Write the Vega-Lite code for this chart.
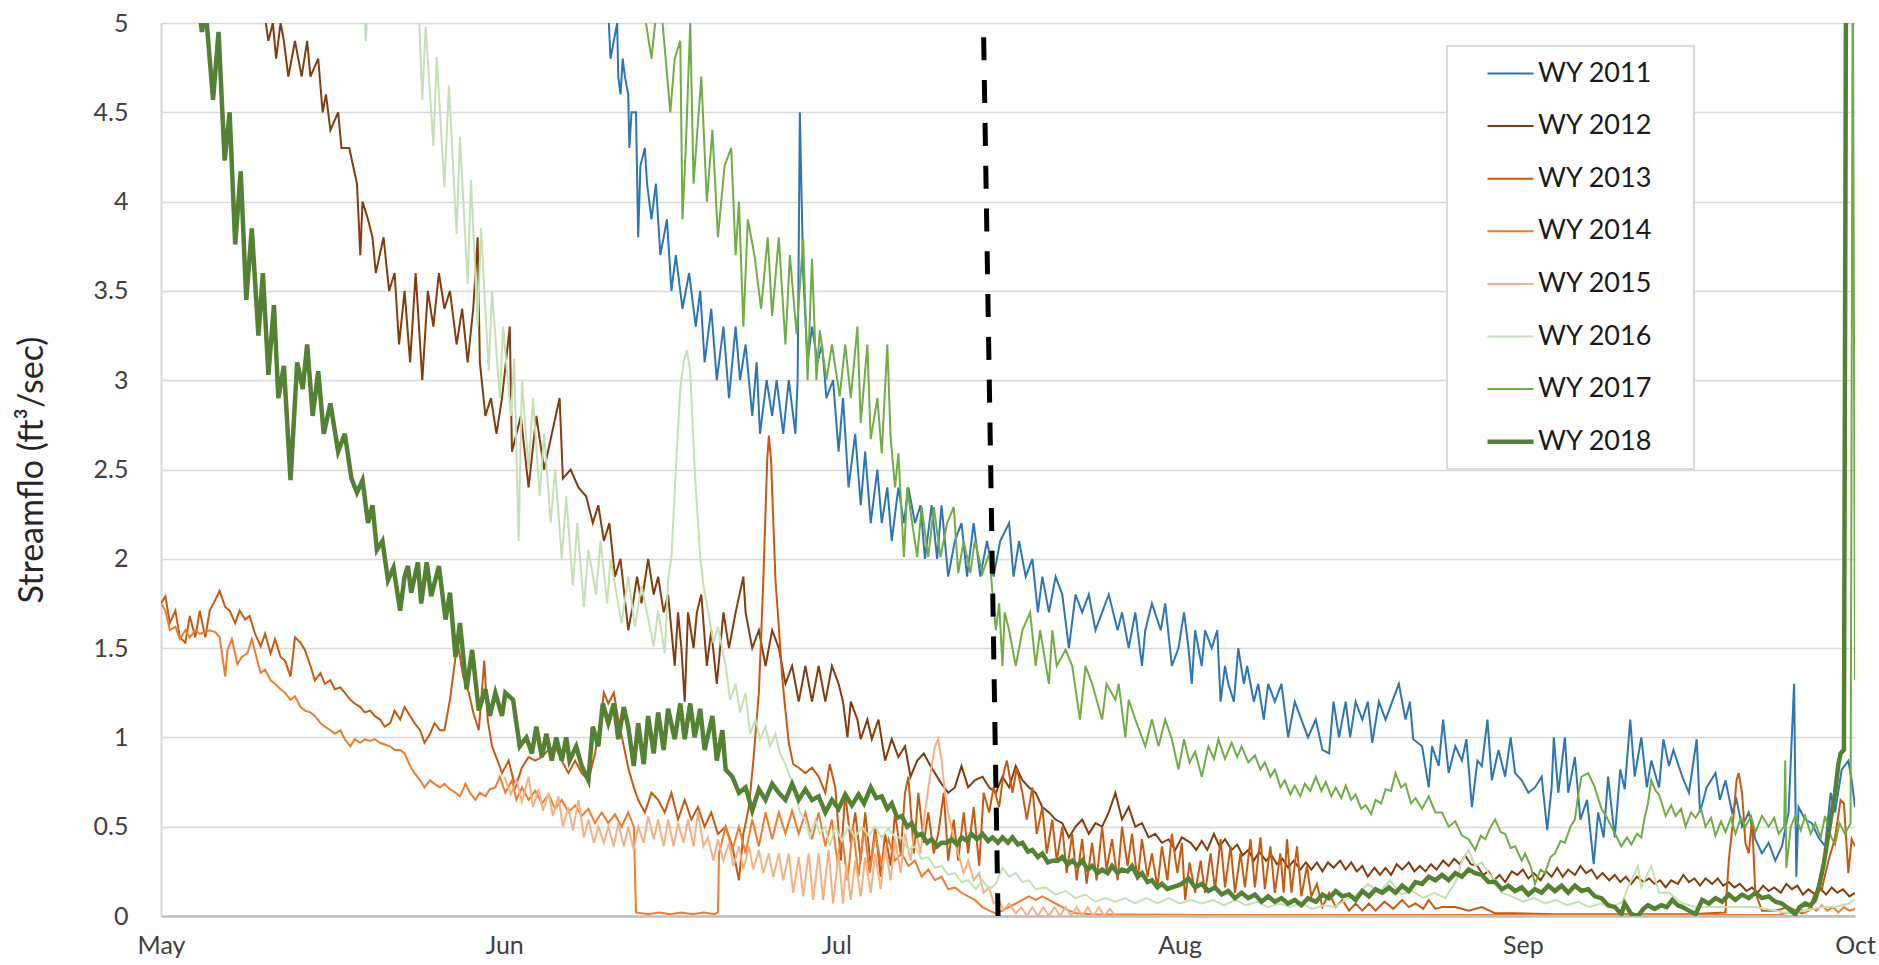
{
"$schema":"https://vega.github.io/schema/vega-lite/v6.json",
"width":1694,"height":893,
"autosize":{"type":"none"},
"padding":{"left":161,"top":23,"right":24,"bottom":49},
"background":"white",
"config":{"view":{"stroke":null},"font":"Lato","axis":{"labelFont":"Lato","titleFont":"Lato"},"legend":{"labelFont":"Lato"}},
"encoding":{
 "x":{"field":"d","type":"quantitative","scale":{"type":"linear","domain":[0,153],"nice":false,"zero":false},
  "axis":{"values":[0,31,61,92,123,153],"labelExpr":"datum.value == 0 ? 'May' : datum.value == 31 ? 'Jun' : datum.value == 61 ? 'Jul' : datum.value == 92 ? 'Aug' : datum.value == 123 ? 'Sep' : 'Oct'","title":null,"grid":false,"ticks":false,"tickSize":0,"domainColor":"#BFBFBF","domainWidth":2.5,"labelFontSize":25,"labelPadding":17,"labelColor":"#404040","labelFlush":false}},
 "y":{"field":"v","type":"quantitative","scale":{"domain":[0,5],"nice":false,"zero":true},
  "axis":{"values":[0,0.5,1,1.5,2,2.5,3,3.5,4,4.5,5],"format":"~g","title":"Streamflo (ft³/sec)","grid":true,"gridColor":"#D9D9D9","gridWidth":1.5,"domainColor":"#D9D9D9","domainWidth":2,"ticks":false,"tickSize":0,"labelPadding":33,"labelFontSize":25,"labelColor":"#404040","titleFontSize":34,"titleFontWeight":"normal","titleColor":"#262626","titleX":-128.5,"titleY":446.5,"titleBaseline":"middle","titleAngle":270}}
},
"datasets":{
"a11":[{"d":38,"v":5.6},{"d":40.3,"v":5.2},{"d":40.6,"v":4.8},{"d":41.2,"v":5.0},{"d":41.3,"v":4.7},{"d":41.5,"v":4.6},{"d":41.7,"v":4.8},{"d":41.9,"v":4.7},{"d":42.2,"v":4.6},{"d":42.3,"v":4.3},{"d":42.5,"v":4.5},{"d":42.9,"v":4.5},{"d":43.1,"v":3.8},{"d":43.3,"v":4.2},{"d":43.7,"v":4.3},{"d":43.9,"v":4.1},{"d":44.3,"v":3.9},{"d":44.7,"v":4.1},{"d":45.1,"v":3.7},{"d":45.7,"v":3.9},{"d":46.1,"v":3.5},{"d":46.5,"v":3.7},{"d":47.1,"v":3.4},{"d":47.7,"v":3.6},{"d":48.3,"v":3.3},{"d":48.7,"v":3.5},{"d":49.1,"v":3.1},{"d":49.7,"v":3.4},{"d":50.2,"v":3.0},{"d":50.8,"v":3.3},{"d":51.3,"v":2.9},{"d":51.9,"v":3.3},{"d":52.3,"v":3.0},{"d":52.8,"v":3.2},{"d":53.4,"v":2.8},{"d":53.8,"v":3.1},{"d":54.1,"v":2.7},{"d":54.7,"v":3.0},{"d":55.2,"v":2.8},{"d":55.6,"v":3.0},{"d":56.2,"v":2.7},{"d":56.7,"v":3.0},{"d":57.3,"v":2.7},{"d":57.5,"v":3.0},{"d":57.7,"v":4.5},{"d":58.0,"v":3.6},{"d":58.4,"v":3.1},{"d":58.8,"v":3.3},{"d":59.3,"v":3.1},{"d":59.7,"v":3.2},{"d":60.1,"v":2.9},{"d":60.7,"v":3.0},{"d":61.2,"v":2.6},{"d":61.6,"v":2.9},{"d":62.1,"v":2.4},{"d":62.7,"v":2.7},{"d":63.2,"v":2.3},{"d":63.6,"v":2.6},{"d":64.1,"v":2.2},{"d":64.7,"v":2.5},{"d":65.1,"v":2.2},{"d":65.6,"v":2.4},{"d":66.0,"v":2.1},{"d":66.6,"v":2.4},{"d":67.1,"v":2.2},{"d":67.5,"v":2.4},{"d":68.1,"v":2.2},{"d":68.6,"v":2.3},{"d":69.0,"v":2.0},{"d":69.6,"v":2.3},{"d":70.1,"v":2.0},{"d":70.5,"v":2.3},{"d":71.1,"v":1.9},{"d":71.7,"v":2.1},{"d":72.3,"v":2.2},{"d":72.8,"v":1.9},{"d":73.4,"v":2.2},{"d":74.0,"v":1.9},{"d":74.6,"v":2.1},{"d":75.2,"v":1.9},{"d":75.8,"v":2.1},{"d":76.6,"v":2.2},{"d":77.0,"v":1.9},{"d":77.5,"v":2.1},{"d":78.1,"v":1.9},{"d":78.7,"v":2.0},{"d":79.2,"v":1.7},{"d":79.6,"v":1.9},{"d":80.2,"v":1.7},{"d":80.8,"v":1.9},{"d":81.4,"v":1.8},{"d":82.0,"v":1.5},{"d":82.6,"v":1.8},{"d":83.2,"v":1.7},{"d":83.8,"v":1.8},{"d":84.4,"v":1.6},{"d":85.0,"v":1.7},{"d":85.6,"v":1.8},{"d":86.4,"v":1.6},{"d":86.8,"v":1.7},{"d":87.4,"v":1.5},{"d":88.0,"v":1.7},{"d":88.6,"v":1.4},{"d":88.9,"v":1.6},{"d":89.5,"v":1.75},{"d":90.3,"v":1.6},{"d":90.7,"v":1.75},{"d":91.3,"v":1.4},{"d":91.9,"v":1.5},{"d":92.4,"v":1.7},{"d":92.8,"v":1.5},{"d":93.1,"v":1.3},{"d":93.4,"v":1.6},{"d":94.0,"v":1.4},{"d":94.3,"v":1.6},{"d":94.9,"v":1.5},{"d":95.4,"v":1.6},{"d":95.7,"v":1.2},{"d":96.1,"v":1.4},{"d":96.4,"v":1.3},{"d":96.9,"v":1.2},{"d":97.3,"v":1.5},{"d":97.8,"v":1.3},{"d":98.1,"v":1.4},{"d":98.7,"v":1.2},{"d":99.1,"v":1.3},{"d":99.6,"v":1.1},{"d":100.0,"v":1.3},{"d":100.6,"v":1.2},{"d":101.2,"v":1.3},{"d":101.8,"v":1.0},{"d":102.4,"v":1.2},{"d":103.0,"v":1.1},{"d":103.6,"v":1.0},{"d":104.3,"v":1.1},{"d":104.9,"v":0.93},{"d":105.5,"v":0.91},{"d":105.9,"v":1.2},{"d":106.4,"v":1.0},{"d":107.0,"v":1.2},{"d":107.4,"v":1.0},{"d":107.9,"v":1.2},{"d":108.5,"v":1.1},{"d":109.0,"v":1.2},{"d":109.4,"v":0.97},{"d":110.0,"v":1.2},{"d":110.6,"v":1.1},{"d":111.2,"v":1.2},{"d":111.8,"v":1.3},{"d":112.4,"v":1.1},{"d":112.8,"v":1.2},{"d":113.1,"v":0.99},{"d":113.9,"v":0.95},{"d":114.5,"v":0.72},{"d":114.8,"v":0.95},{"d":115.4,"v":0.84},{"d":115.8,"v":1.1},{"d":116.3,"v":0.8},{"d":116.9,"v":0.95},{"d":117.5,"v":0.87},{"d":117.9,"v":0.99},{"d":118.4,"v":0.61},{"d":118.9,"v":0.87},{"d":119.3,"v":0.84},{"d":119.8,"v":1.1},{"d":120.2,"v":0.76},{"d":120.8,"v":0.93},{"d":121.4,"v":0.78},{"d":121.9,"v":1.0},{"d":122.3,"v":0.8},{"d":122.9,"v":0.76},{"d":123.5,"v":0.69},{"d":124.1,"v":0.72},{"d":124.7,"v":0.78},{"d":125.2,"v":0.48},{"d":125.6,"v":0.72},{"d":125.8,"v":1.0},{"d":126.2,"v":0.69},{"d":126.8,"v":1.0},{"d":127.1,"v":0.69},{"d":127.7,"v":0.89},{"d":128.2,"v":0.54},{"d":128.8,"v":0.65},{"d":129.4,"v":0.29},{"d":129.8,"v":0.58},{"d":130.3,"v":0.44},{"d":130.7,"v":0.78},{"d":131.3,"v":0.44},{"d":131.8,"v":0.82},{"d":132.2,"v":0.71},{"d":132.7,"v":1.1},{"d":133.1,"v":0.78},{"d":133.7,"v":1.0},{"d":134.2,"v":0.72},{"d":134.6,"v":0.87},{"d":135.3,"v":0.72},{"d":135.7,"v":0.99},{"d":136.2,"v":0.84},{"d":136.6,"v":0.93},{"d":137.4,"v":0.78},{"d":138.0,"v":0.69},{"d":138.7,"v":0.99},{"d":139.0,"v":0.58},{"d":139.6,"v":0.72},{"d":140.4,"v":0.8},{"d":140.8,"v":0.65},{"d":141.3,"v":0.76},{"d":141.9,"v":0.58},{"d":142.3,"v":0.65},{"d":142.8,"v":0.5},{"d":143.4,"v":0.58},{"d":144.0,"v":0.43},{"d":144.6,"v":0.35},{"d":145.2,"v":0.41},{"d":145.8,"v":0.31},{"d":146.4,"v":0.39},{"d":147.0,"v":0.58},{"d":147.5,"v":1.3},{"d":147.7,"v":0.22},{"d":147.9,"v":0.61},{"d":148.5,"v":0.54},{"d":149.1,"v":0.52},{"d":149.7,"v":0.44},{"d":150.3,"v":0.39},{"d":150.8,"v":0.69},{"d":151.2,"v":0.58},{"d":151.8,"v":0.82},{"d":152.4,"v":0.87},{"d":152.7,"v":0.76},{"d":153,"v":0.61}],
"a12":[{"d":7,"v":5.6},{"d":9.0,"v":5.2},{"d":9.7,"v":4.9},{"d":10.1,"v":5.0},{"d":10.4,"v":4.8},{"d":10.8,"v":5.0},{"d":11.1,"v":4.9},{"d":11.5,"v":4.7},{"d":11.8,"v":4.8},{"d":12.1,"v":4.9},{"d":12.7,"v":4.7},{"d":13.2,"v":4.9},{"d":13.5,"v":4.7},{"d":14.2,"v":4.8},{"d":14.6,"v":4.5},{"d":14.9,"v":4.6},{"d":15.3,"v":4.4},{"d":16.0,"v":4.5},{"d":16.3,"v":4.3},{"d":17.0,"v":4.3},{"d":17.7,"v":4.1},{"d":18.0,"v":3.7},{"d":18.2,"v":4.0},{"d":18.7,"v":3.9},{"d":19.1,"v":3.8},{"d":19.4,"v":3.6},{"d":20.1,"v":3.8},{"d":20.6,"v":3.5},{"d":21.1,"v":3.6},{"d":21.5,"v":3.2},{"d":22.0,"v":3.5},{"d":22.5,"v":3.1},{"d":23.0,"v":3.6},{"d":23.6,"v":3.0},{"d":24.1,"v":3.5},{"d":24.6,"v":3.3},{"d":25.1,"v":3.6},{"d":25.6,"v":3.4},{"d":26.1,"v":3.5},{"d":26.7,"v":3.2},{"d":27.2,"v":3.4},{"d":27.7,"v":3.1},{"d":28.2,"v":3.4},{"d":28.6,"v":3.8},{"d":28.8,"v":3.1},{"d":29.3,"v":2.8},{"d":29.8,"v":2.9},{"d":30.3,"v":2.7},{"d":30.8,"v":2.9},{"d":31.5,"v":3.3},{"d":31.7,"v":2.6},{"d":32.5,"v":2.8},{"d":33.2,"v":2.4},{"d":33.9,"v":2.8},{"d":34.6,"v":2.5},{"d":35.3,"v":2.7},{"d":36.0,"v":2.9},{"d":36.3,"v":2.45},{"d":37.0,"v":2.5},{"d":37.7,"v":2.4},{"d":38.4,"v":2.35},{"d":39.0,"v":2.2},{"d":39.5,"v":2.3},{"d":40.0,"v":2.1},{"d":40.5,"v":2.2},{"d":41.0,"v":1.9},{"d":41.5,"v":2.0},{"d":42.2,"v":1.6},{"d":42.5,"v":1.7},{"d":43.0,"v":1.9},{"d":43.4,"v":1.75},{"d":44.0,"v":2.0},{"d":44.5,"v":1.8},{"d":44.9,"v":1.9},{"d":45.4,"v":1.7},{"d":45.8,"v":1.8},{"d":46.4,"v":1.4},{"d":46.7,"v":1.7},{"d":47.0,"v":1.5},{"d":47.3,"v":1.2},{"d":47.6,"v":1.7},{"d":48.1,"v":1.5},{"d":48.4,"v":1.7},{"d":48.8,"v":1.8},{"d":49.3,"v":1.4},{"d":49.7,"v":1.6},{"d":50.2,"v":1.3},{"d":50.8,"v":1.7},{"d":51.3,"v":1.5},{"d":51.9,"v":1.7},{"d":52.6,"v":1.9},{"d":52.8,"v":1.7},{"d":53.4,"v":1.5},{"d":54.0,"v":1.6},{"d":54.6,"v":1.4},{"d":55.2,"v":1.6},{"d":55.8,"v":1.5},{"d":56.4,"v":1.3},{"d":57.0,"v":1.4},{"d":57.6,"v":1.2},{"d":58.2,"v":1.4},{"d":58.8,"v":1.2},{"d":59.4,"v":1.4},{"d":60.0,"v":1.2},{"d":60.6,"v":1.4},{"d":61.2,"v":1.3},{"d":61.6,"v":1.2},{"d":62.0,"v":1.0},{"d":62.3,"v":1.2},{"d":62.9,"v":1.1},{"d":63.2,"v":0.99},{"d":63.8,"v":1.1},{"d":64.2,"v":0.99},{"d":64.8,"v":1.1},{"d":65.4,"v":0.87},{"d":66.0,"v":0.99},{"d":66.6,"v":0.89},{"d":67.2,"v":0.95},{"d":67.7,"v":0.78},{"d":68.3,"v":0.87},{"d":68.9,"v":0.91},{"d":69.5,"v":0.84},{"d":69.9,"v":0.8},{"d":70.5,"v":0.74},{"d":71.1,"v":0.69},{"d":71.7,"v":0.72},{"d":72.3,"v":0.84},{"d":72.9,"v":0.72},{"d":73.5,"v":0.76},{"d":74.2,"v":0.78},{"d":74.8,"v":0.72},{"d":75.4,"v":0.69},{"d":76.0,"v":0.78},{"d":76.6,"v":0.72},{"d":77.2,"v":0.84},{"d":77.8,"v":0.76},{"d":78.4,"v":0.72},{"d":79.0,"v":0.69},{"d":79.6,"v":0.61},{"d":80.2,"v":0.58},{"d":80.8,"v":0.54},{"d":81.4,"v":0.52},{"d":82.0,"v":0.44},{"d":82.6,"v":0.5},{"d":83.2,"v":0.54},{"d":83.8,"v":0.46},{"d":84.4,"v":0.52},{"d":85.0,"v":0.5},{"d":85.6,"v":0.58},{"d":86.2,"v":0.69},{"d":86.8,"v":0.54},{"d":87.4,"v":0.61},{"d":88.0,"v":0.5},{"d":88.6,"v":0.52},{"d":89.2,"v":0.44},{"d":89.8,"v":0.46},{"d":90.4,"v":0.41},{"d":91.0,"v":0.43},{"d":91.6,"v":0.37},{"d":92.2,"v":0.44},{"d":93.0,"v":0.41},{"d":93.5,"v":0.37},{"d":94.0,"v":0.42},{"d":94.5,"v":0.37},{"d":95.1,"v":0.46},{"d":95.6,"v":0.39},{"d":96.1,"v":0.43},{"d":96.7,"v":0.37},{"d":97.2,"v":0.4},{"d":97.7,"v":0.34},{"d":98.2,"v":0.37},{"d":98.7,"v":0.31},{"d":99.2,"v":0.36},{"d":99.8,"v":0.31},{"d":100.3,"v":0.34},{"d":100.8,"v":0.29},{"d":101.3,"v":0.32},{"d":101.8,"v":0.27},{"d":102.3,"v":0.31},{"d":102.9,"v":0.26},{"d":103.4,"v":0.3},{"d":103.9,"v":0.26},{"d":104.4,"v":0.3},{"d":104.9,"v":0.25},{"d":105.4,"v":0.3},{"d":105.9,"v":0.27},{"d":106.5,"v":0.31},{"d":107.0,"v":0.26},{"d":107.5,"v":0.3},{"d":108.0,"v":0.25},{"d":108.5,"v":0.28},{"d":109.0,"v":0.22},{"d":109.6,"v":0.27},{"d":110.1,"v":0.23},{"d":110.6,"v":0.27},{"d":111.1,"v":0.23},{"d":111.6,"v":0.29},{"d":112.1,"v":0.26},{"d":112.7,"v":0.3},{"d":113.2,"v":0.25},{"d":113.7,"v":0.28},{"d":114.2,"v":0.25},{"d":114.7,"v":0.29},{"d":115.2,"v":0.26},{"d":115.8,"v":0.31},{"d":116.3,"v":0.28},{"d":116.8,"v":0.32},{"d":117.3,"v":0.29},{"d":117.8,"v":0.34},{"d":118.3,"v":0.29},{"d":118.9,"v":0.28},{"d":119.4,"v":0.23},{"d":119.9,"v":0.25},{"d":120.4,"v":0.2},{"d":120.9,"v":0.23},{"d":121.4,"v":0.19},{"d":122.0,"v":0.25},{"d":122.5,"v":0.23},{"d":123.0,"v":0.26},{"d":123.5,"v":0.21},{"d":124.0,"v":0.24},{"d":124.6,"v":0.2},{"d":125.1,"v":0.25},{"d":125.6,"v":0.22},{"d":126.1,"v":0.27},{"d":126.6,"v":0.22},{"d":127.1,"v":0.26},{"d":127.7,"v":0.23},{"d":128.2,"v":0.28},{"d":128.7,"v":0.24},{"d":129.2,"v":0.26},{"d":129.7,"v":0.21},{"d":130.2,"v":0.24},{"d":130.8,"v":0.2},{"d":131.3,"v":0.23},{"d":131.8,"v":0.19},{"d":132.3,"v":0.22},{"d":132.8,"v":0.18},{"d":133.3,"v":0.22},{"d":133.9,"v":0.19},{"d":134.4,"v":0.21},{"d":134.9,"v":0.18},{"d":135.4,"v":0.2},{"d":135.9,"v":0.16},{"d":136.4,"v":0.2},{"d":137.0,"v":0.18},{"d":137.5,"v":0.23},{"d":138.0,"v":0.19},{"d":138.5,"v":0.21},{"d":139.0,"v":0.17},{"d":139.5,"v":0.21},{"d":140.1,"v":0.18},{"d":140.6,"v":0.21},{"d":141.1,"v":0.17},{"d":141.6,"v":0.19},{"d":142.1,"v":0.16},{"d":142.6,"v":0.18},{"d":143.2,"v":0.14},{"d":143.7,"v":0.16},{"d":144.2,"v":0.13},{"d":144.7,"v":0.17},{"d":145.2,"v":0.14},{"d":145.7,"v":0.16},{"d":146.3,"v":0.13},{"d":146.8,"v":0.18},{"d":147.3,"v":0.15},{"d":147.8,"v":0.17},{"d":148.3,"v":0.12},{"d":148.8,"v":0.15},{"d":149.4,"v":0.12},{"d":149.9,"v":0.15},{"d":150.4,"v":0.12},{"d":150.9,"v":0.16},{"d":151.4,"v":0.13},{"d":151.9,"v":0.15},{"d":152.5,"v":0.11},{"d":153,"v":0.13}],
"a13":[{"d":0,"v":1.75},{"d":0.4,"v":1.79},{"d":0.8,"v":1.64},{"d":1.3,"v":1.71},{"d":1.7,"v":1.56},{"d":2.2,"v":1.53},{"d":2.6,"v":1.68},{"d":3.1,"v":1.56},{"d":3.5,"v":1.71},{"d":4.0,"v":1.56},{"d":4.4,"v":1.71},{"d":4.9,"v":1.77},{"d":5.3,"v":1.82},{"d":5.8,"v":1.73},{"d":6.2,"v":1.71},{"d":6.7,"v":1.64},{"d":7.1,"v":1.71},{"d":7.6,"v":1.66},{"d":8.0,"v":1.68},{"d":8.5,"v":1.58},{"d":9.0,"v":1.51},{"d":9.4,"v":1.58},{"d":9.9,"v":1.47},{"d":10.3,"v":1.55},{"d":10.8,"v":1.45},{"d":11.2,"v":1.43},{"d":11.7,"v":1.34},{"d":12.1,"v":1.56},{"d":12.6,"v":1.53},{"d":13.0,"v":1.49},{"d":13.5,"v":1.4},{"d":13.9,"v":1.32},{"d":14.4,"v":1.36},{"d":14.8,"v":1.3},{"d":15.3,"v":1.32},{"d":15.7,"v":1.27},{"d":16.2,"v":1.28},{"d":16.6,"v":1.25},{"d":17.1,"v":1.21},{"d":17.5,"v":1.19},{"d":18.0,"v":1.17},{"d":18.4,"v":1.14},{"d":18.9,"v":1.15},{"d":19.3,"v":1.12},{"d":19.8,"v":1.1},{"d":20.2,"v":1.06},{"d":20.7,"v":1.08},{"d":21.1,"v":1.15},{"d":21.6,"v":1.1},{"d":22.0,"v":1.17},{"d":22.5,"v":1.12},{"d":22.9,"v":1.08},{"d":23.4,"v":1.04},{"d":23.8,"v":0.97},{"d":24.3,"v":1.02},{"d":24.7,"v":1.08},{"d":25.2,"v":1.04},{"d":25.6,"v":1.04},{"d":26.1,"v":1.21},{"d":26.6,"v":1.45},{"d":26.9,"v":1.49},{"d":27.3,"v":1.34},{"d":27.8,"v":1.25},{"d":28.2,"v":1.14},{"d":28.7,"v":1.04},{"d":29.2,"v":1.43},{"d":29.5,"v":1.1},{"d":29.9,"v":0.95},{"d":30.4,"v":0.87},{"d":30.8,"v":0.8},{"d":31.4,"v":0.87},{"d":32.0,"v":0.72},{"d":32.6,"v":0.83},{"d":33.2,"v":0.89},{"d":33.8,"v":0.87},{"d":34.4,"v":0.89},{"d":35.0,"v":0.93},{"d":35.6,"v":0.95},{"d":36.2,"v":0.87},{"d":36.8,"v":0.8},{"d":37.4,"v":0.87},{"d":38.0,"v":0.8},{"d":38.6,"v":0.76},{"d":39.2,"v":0.91},{"d":39.7,"v":1.1},{"d":40.0,"v":1.25},{"d":40.4,"v":1.19},{"d":40.9,"v":1.25},{"d":41.3,"v":1.1},{"d":41.8,"v":0.95},{"d":42.2,"v":0.83},{"d":42.7,"v":0.72},{"d":43.1,"v":0.65},{"d":43.7,"v":0.58},{"d":44.3,"v":0.69},{"d":44.9,"v":0.65},{"d":45.5,"v":0.58},{"d":46.1,"v":0.69},{"d":46.7,"v":0.54},{"d":47.3,"v":0.65},{"d":47.9,"v":0.54},{"d":48.5,"v":0.61},{"d":49.1,"v":0.5},{"d":49.7,"v":0.58},{"d":50.3,"v":0.46},{"d":51.0,"v":0.5},{"d":51.6,"v":0.39},{"d":52.2,"v":0.2},{"d":52.6,"v":0.46},{"d":53.1,"v":0.61},{"d":53.5,"v":0.87},{"d":54.0,"v":1.25},{"d":54.4,"v":1.88},{"d":54.75,"v":2.55},{"d":54.9,"v":2.69},{"d":55.1,"v":2.55},{"d":55.5,"v":1.88},{"d":55.8,"v":1.62},{"d":56.1,"v":1.34},{"d":56.4,"v":1.15},{"d":56.7,"v":0.97},{"d":57.1,"v":0.85},{"d":57.6,"v":0.83},{"d":58.2,"v":0.8},{"d":58.8,"v":0.83},{"d":59.4,"v":0.78},{"d":60.0,"v":0.69},{"d":60.4,"v":0.85},{"d":60.9,"v":0.72},{"d":61.4,"v":0.31},{"d":61.8,"v":0.69},{"d":62.3,"v":0.41},{"d":62.7,"v":0.58},{"d":63.2,"v":0.31},{"d":63.6,"v":0.58},{"d":64.1,"v":0.28},{"d":64.5,"v":0.5},{"d":65.0,"v":0.22},{"d":65.4,"v":0.46},{"d":65.9,"v":0.28},{"d":66.3,"v":0.58},{"d":66.8,"v":0.35},{"d":67.2,"v":0.69},{"d":67.5,"v":0.78},{"d":68.0,"v":0.35},{"d":68.4,"v":0.69},{"d":68.9,"v":0.41},{"d":69.3,"v":0.58},{"d":69.8,"v":0.35},{"d":70.2,"v":0.46},{"d":70.7,"v":0.69},{"d":71.1,"v":0.31},{"d":71.6,"v":0.54},{"d":72.0,"v":0.31},{"d":72.5,"v":0.58},{"d":72.9,"v":0.35},{"d":73.4,"v":0.61},{"d":73.9,"v":0.28},{"d":74.3,"v":0.69},{"d":74.8,"v":0.58},{"d":75.2,"v":0.72},{"d":75.7,"v":0.61},{"d":76.1,"v":0.8},{"d":76.4,"v":0.87},{"d":76.9,"v":0.69},{"d":77.3,"v":0.83},{"d":77.8,"v":0.69},{"d":78.2,"v":0.54},{"d":78.7,"v":0.72},{"d":79.1,"v":0.46},{"d":79.6,"v":0.61},{"d":80.0,"v":0.35},{"d":80.5,"v":0.54},{"d":80.9,"v":0.31},{"d":81.4,"v":0.5},{"d":81.8,"v":0.24},{"d":82.3,"v":0.46},{"d":82.7,"v":0.2},{"d":83.2,"v":0.43},{"d":83.6,"v":0.18},{"d":84.1,"v":0.41},{"d":84.5,"v":0.2},{"d":85.0,"v":0.5},{"d":85.4,"v":0.26},{"d":85.9,"v":0.43},{"d":86.4,"v":0.2},{"d":86.8,"v":0.5},{"d":87.3,"v":0.28},{"d":87.7,"v":0.46},{"d":88.2,"v":0.2},{"d":88.6,"v":0.43},{"d":89.1,"v":0.22},{"d":89.5,"v":0.35},{"d":90.0,"v":0.16},{"d":90.4,"v":0.39},{"d":90.9,"v":0.2},{"d":91.3,"v":0.46},{"d":91.8,"v":0.24},{"d":92.2,"v":0.41},{"d":92.5,"v":0.09},{"d":92.9,"v":0.3},{"d":93.4,"v":0.13},{"d":93.9,"v":0.31},{"d":94.3,"v":0.13},{"d":94.8,"v":0.35},{"d":95.2,"v":0.15},{"d":95.7,"v":0.43},{"d":96.1,"v":0.16},{"d":96.6,"v":0.39},{"d":97.0,"v":0.13},{"d":97.5,"v":0.35},{"d":97.9,"v":0.16},{"d":98.4,"v":0.43},{"d":98.8,"v":0.16},{"d":99.3,"v":0.44},{"d":99.7,"v":0.15},{"d":100.2,"v":0.39},{"d":100.6,"v":0.13},{"d":101.1,"v":0.35},{"d":101.4,"v":0.13},{"d":101.7,"v":0.43},{"d":102.1,"v":0.13},{"d":102.6,"v":0.39},{"d":103.0,"v":0.11},{"d":103.5,"v":0.28},{"d":103.9,"v":0.11},{"d":104.4,"v":0.18},{"d":104.9,"v":0.05},{"d":105.5,"v":0.13},{"d":106.1,"v":0.05},{"d":106.7,"v":0.09},{"d":107.3,"v":0.03},{"d":107.9,"v":0.07},{"d":108.5,"v":0.03},{"d":109.1,"v":0.07},{"d":109.7,"v":0.03},{"d":110.5,"v":0.08},{"d":111.3,"v":0.04},{"d":112.1,"v":0.09},{"d":112.7,"v":0.05},{"d":113.3,"v":0.07},{"d":114.0,"v":0.04},{"d":114.5,"v":0.09},{"d":115.1,"v":0.04},{"d":115.7,"v":0.05},{"d":116.9,"v":0.05},{"d":118.1,"v":0.03},{"d":119.3,"v":0.05},{"d":120.5,"v":0.015},{"d":122,"v":0.015},{"d":126,"v":0.01},{"d":132,"v":0.01},{"d":138,"v":0.01},{"d":141.3,"v":0.02},{"d":141.6,"v":0.31},{"d":142.0,"v":0.54},{"d":142.3,"v":0.76},{"d":142.5,"v":0.8},{"d":142.8,"v":0.69},{"d":143.1,"v":0.41},{"d":143.4,"v":0.35},{"d":143.7,"v":0.54},{"d":144.0,"v":0.13},{"d":144.6,"v":0.03},{"d":145.8,"v":0.03},{"d":147.0,"v":0.05},{"d":148.2,"v":0.015},{"d":148.8,"v":0.03},{"d":149.4,"v":0.13},{"d":150.0,"v":0.15},{"d":150.6,"v":0.31},{"d":151.2,"v":0.44},{"d":151.7,"v":0.65},{"d":152.0,"v":0.63},{"d":152.4,"v":0.24},{"d":152.7,"v":0.43},{"d":153,"v":0.39}],
"a14":[{"d":0,"v":1.75},{"d":0.4,"v":1.71},{"d":0.8,"v":1.6},{"d":1.3,"v":1.62},{"d":1.7,"v":1.55},{"d":2.2,"v":1.6},{"d":2.6,"v":1.56},{"d":3.1,"v":1.6},{"d":3.5,"v":1.58},{"d":4.0,"v":1.59},{"d":4.4,"v":1.6},{"d":4.9,"v":1.59},{"d":5.3,"v":1.56},{"d":5.8,"v":1.34},{"d":6.0,"v":1.49},{"d":6.4,"v":1.55},{"d":6.9,"v":1.41},{"d":7.3,"v":1.45},{"d":7.8,"v":1.47},{"d":8.2,"v":1.55},{"d":8.7,"v":1.43},{"d":9.0,"v":1.36},{"d":9.4,"v":1.38},{"d":9.9,"v":1.32},{"d":10.3,"v":1.3},{"d":10.8,"v":1.27},{"d":11.2,"v":1.25},{"d":11.7,"v":1.21},{"d":12.1,"v":1.23},{"d":12.6,"v":1.17},{"d":13.0,"v":1.15},{"d":13.5,"v":1.14},{"d":13.9,"v":1.12},{"d":14.4,"v":1.08},{"d":14.8,"v":1.06},{"d":15.3,"v":1.04},{"d":15.7,"v":1.02},{"d":16.2,"v":1.04},{"d":16.6,"v":0.99},{"d":17.1,"v":0.95},{"d":17.5,"v":0.99},{"d":18.0,"v":0.97},{"d":18.4,"v":0.99},{"d":18.9,"v":0.98},{"d":19.3,"v":0.99},{"d":19.8,"v":0.97},{"d":20.2,"v":0.96},{"d":20.7,"v":0.95},{"d":21.1,"v":0.93},{"d":21.6,"v":0.93},{"d":22.0,"v":0.91},{"d":22.5,"v":0.84},{"d":22.9,"v":0.8},{"d":23.4,"v":0.76},{"d":23.8,"v":0.72},{"d":24.3,"v":0.76},{"d":24.7,"v":0.74},{"d":25.2,"v":0.72},{"d":25.6,"v":0.74},{"d":26.1,"v":0.71},{"d":26.6,"v":0.69},{"d":27.0,"v":0.67},{"d":27.5,"v":0.74},{"d":27.9,"v":0.69},{"d":28.4,"v":0.65},{"d":28.8,"v":0.69},{"d":29.3,"v":0.67},{"d":29.7,"v":0.71},{"d":30.2,"v":0.72},{"d":30.6,"v":0.78},{"d":31.1,"v":0.69},{"d":31.7,"v":0.76},{"d":32.1,"v":0.65},{"d":32.6,"v":0.72},{"d":33.2,"v":0.65},{"d":33.8,"v":0.7},{"d":34.4,"v":0.63},{"d":35.0,"v":0.68},{"d":35.6,"v":0.6},{"d":36.2,"v":0.65},{"d":36.8,"v":0.58},{"d":37.4,"v":0.62},{"d":38.0,"v":0.56},{"d":38.6,"v":0.6},{"d":39.2,"v":0.52},{"d":39.8,"v":0.58},{"d":40.4,"v":0.52},{"d":41.0,"v":0.57},{"d":41.6,"v":0.5},{"d":42.2,"v":0.58},{"d":42.7,"v":0.5},{"d":42.9,"v":0.02},{"d":44,"v":0.01},{"d":45,"v":0.02},{"d":46,"v":0.01},{"d":47,"v":0.02},{"d":48,"v":0.01},{"d":49,"v":0.02},{"d":50,"v":0.01},{"d":50.3,"v":0.02},{"d":50.4,"v":0.35},{"d":51.0,"v":0.5},{"d":51.6,"v":0.37},{"d":52.2,"v":0.5},{"d":52.8,"v":0.35},{"d":53.4,"v":0.54},{"d":54.0,"v":0.39},{"d":54.6,"v":0.58},{"d":55.2,"v":0.43},{"d":55.8,"v":0.58},{"d":56.4,"v":0.46},{"d":57.0,"v":0.59},{"d":57.6,"v":0.46},{"d":58.2,"v":0.58},{"d":58.8,"v":0.43},{"d":59.4,"v":0.58},{"d":60.0,"v":0.39},{"d":60.6,"v":0.54},{"d":61.1,"v":0.3},{"d":61.5,"v":0.46},{"d":62.0,"v":0.2},{"d":62.5,"v":0.5},{"d":63.0,"v":0.22},{"d":63.5,"v":0.5},{"d":64.0,"v":0.24},{"d":64.5,"v":0.46},{"d":65.1,"v":0.28},{"d":65.7,"v":0.43},{"d":66.3,"v":0.31},{"d":66.9,"v":0.35},{"d":67.5,"v":0.28},{"d":68.1,"v":0.31},{"d":68.7,"v":0.22},{"d":69.3,"v":0.26},{"d":69.9,"v":0.2},{"d":70.5,"v":0.22},{"d":71.1,"v":0.15},{"d":71.7,"v":0.16},{"d":72.3,"v":0.13},{"d":72.9,"v":0.11},{"d":73.5,"v":0.09},{"d":74.2,"v":0.05},{"d":74.8,"v":0.03},{"d":75.4,"v":0.015},{"d":76.0,"v":0.03},{"d":76.6,"v":0.05},{"d":77.2,"v":0.07},{"d":77.8,"v":0.09},{"d":78.4,"v":0.11},{"d":79.0,"v":0.09},{"d":79.6,"v":0.11},{"d":80.2,"v":0.09},{"d":80.8,"v":0.07},{"d":81.4,"v":0.05},{"d":82.0,"v":0.03},{"d":82.6,"v":0.015},{"d":84,"v":0.01},{"d":95,"v":0.005},{"d":110,"v":0.005},{"d":125,"v":0.005},{"d":140,"v":0.005},{"d":146,"v":0.005},{"d":147,"v":0.02},{"d":148,"v":0.04},{"d":148.5,"v":0.02},{"d":149,"v":0.05},{"d":149.5,"v":0.03},{"d":150,"v":0.06},{"d":150.5,"v":0.03},{"d":151,"v":0.05},{"d":151.5,"v":0.02},{"d":152,"v":0.05},{"d":152.5,"v":0.03},{"d":153,"v":0.04}],
"a15":[{"d":31,"v":0.78},{"d":31.6,"v":0.68},{"d":32.1,"v":0.76},{"d":32.6,"v":0.64},{"d":33.2,"v":0.78},{"d":33.6,"v":0.61},{"d":34.1,"v":0.71},{"d":34.5,"v":0.59},{"d":35.0,"v":0.69},{"d":35.4,"v":0.56},{"d":35.9,"v":0.67},{"d":36.3,"v":0.5},{"d":36.8,"v":0.61},{"d":37.2,"v":0.48},{"d":37.7,"v":0.65},{"d":38.2,"v":0.44},{"d":38.6,"v":0.54},{"d":39.1,"v":0.41},{"d":39.5,"v":0.5},{"d":40.0,"v":0.41},{"d":40.4,"v":0.5},{"d":40.9,"v":0.39},{"d":41.3,"v":0.52},{"d":41.8,"v":0.39},{"d":42.2,"v":0.5},{"d":42.7,"v":0.37},{"d":43.1,"v":0.5},{"d":43.6,"v":0.41},{"d":44.0,"v":0.56},{"d":44.5,"v":0.43},{"d":44.9,"v":0.54},{"d":45.4,"v":0.39},{"d":45.8,"v":0.54},{"d":46.3,"v":0.39},{"d":46.7,"v":0.52},{"d":47.2,"v":0.41},{"d":47.6,"v":0.54},{"d":48.1,"v":0.39},{"d":48.5,"v":0.58},{"d":49.0,"v":0.39},{"d":49.4,"v":0.44},{"d":49.9,"v":0.31},{"d":50.3,"v":0.43},{"d":50.8,"v":0.31},{"d":51.3,"v":0.41},{"d":51.7,"v":0.28},{"d":52.2,"v":0.39},{"d":52.6,"v":0.26},{"d":53.1,"v":0.39},{"d":53.5,"v":0.26},{"d":54.0,"v":0.37},{"d":54.4,"v":0.24},{"d":54.9,"v":0.35},{"d":55.3,"v":0.22},{"d":55.8,"v":0.35},{"d":56.2,"v":0.2},{"d":56.7,"v":0.35},{"d":57.1,"v":0.13},{"d":57.6,"v":0.33},{"d":58.0,"v":0.11},{"d":58.5,"v":0.35},{"d":58.9,"v":0.09},{"d":59.4,"v":0.35},{"d":59.8,"v":0.09},{"d":60.3,"v":0.37},{"d":60.7,"v":0.07},{"d":61.2,"v":0.35},{"d":61.6,"v":0.07},{"d":61.9,"v":0.29},{"d":62.3,"v":0.09},{"d":62.7,"v":0.31},{"d":63.2,"v":0.11},{"d":63.6,"v":0.33},{"d":64.1,"v":0.13},{"d":64.5,"v":0.35},{"d":65.0,"v":0.15},{"d":65.4,"v":0.39},{"d":65.9,"v":0.2},{"d":66.3,"v":0.43},{"d":66.8,"v":0.24},{"d":67.2,"v":0.46},{"d":67.7,"v":0.31},{"d":68.1,"v":0.5},{"d":68.6,"v":0.35},{"d":69.0,"v":0.58},{"d":69.5,"v":0.8},{"d":69.9,"v":0.95},{"d":70.2,"v":0.99},{"d":70.5,"v":0.87},{"d":70.8,"v":0.69},{"d":71.1,"v":0.58},{"d":71.6,"v":0.43},{"d":72.0,"v":0.35},{"d":72.5,"v":0.24},{"d":72.9,"v":0.31},{"d":73.4,"v":0.2},{"d":73.9,"v":0.24},{"d":74.3,"v":0.13},{"d":74.8,"v":0.16},{"d":75.2,"v":0.07},{"d":75.7,"v":0.09},{"d":76.1,"v":0.03},{"d":76.6,"v":0.07},{"d":77.2,"v":0.015},{"d":77.7,"v":0.05},{"d":78.2,"v":0.0},{"d":78.7,"v":0.05},{"d":79.2,"v":0.0},{"d":79.7,"v":0.05},{"d":80.2,"v":0.0},{"d":80.7,"v":0.05},{"d":81.2,"v":0.0},{"d":81.7,"v":0.05},{"d":82.2,"v":0.0},{"d":82.7,"v":0.05},{"d":83.2,"v":0.0},{"d":83.7,"v":0.05},{"d":84.2,"v":0.0},{"d":84.7,"v":0.05},{"d":85.2,"v":0.0},{"d":85.7,"v":0.04},{"d":86.2,"v":0.0},{"d":100,"v":0},{"d":120,"v":0},{"d":140,"v":0},{"d":153,"v":0}],
"a16":[{"d":15,"v":5.6},{"d":18.2,"v":5.2},{"d":18.5,"v":4.9},{"d":18.8,"v":5.2},{"d":21,"v":5.6},{"d":23.2,"v":5.2},{"d":23.6,"v":4.57},{"d":23.9,"v":4.98},{"d":24.6,"v":4.31},{"d":24.9,"v":4.81},{"d":25.6,"v":4.08},{"d":26.0,"v":4.65},{"d":26.7,"v":3.82},{"d":27.0,"v":4.36},{"d":27.7,"v":3.54},{"d":28.0,"v":4.12},{"d":28.6,"v":3.3},{"d":28.9,"v":3.85},{"d":29.6,"v":3.05},{"d":29.9,"v":3.5},{"d":30.6,"v":2.9},{"d":30.9,"v":3.3},{"d":31.6,"v":2.8},{"d":31.9,"v":3.12},{"d":32.3,"v":2.1},{"d":32.6,"v":3.0},{"d":33.2,"v":2.5},{"d":33.6,"v":2.9},{"d":34.2,"v":2.35},{"d":34.6,"v":2.7},{"d":35.2,"v":2.2},{"d":35.6,"v":2.5},{"d":36.2,"v":2.0},{"d":36.6,"v":2.35},{"d":37.2,"v":1.85},{"d":37.6,"v":2.2},{"d":38.2,"v":1.73},{"d":38.6,"v":2.05},{"d":39.3,"v":1.8},{"d":39.7,"v":2.1},{"d":40.3,"v":1.75},{"d":40.6,"v":2.0},{"d":41.6,"v":1.64},{"d":42.2,"v":1.9},{"d":42.8,"v":1.62},{"d":43.4,"v":1.85},{"d":44.5,"v":1.51},{"d":44.9,"v":1.71},{"d":45.5,"v":1.47},{"d":45.8,"v":1.88},{"d":46.1,"v":2.01},{"d":46.5,"v":2.5},{"d":46.9,"v":2.95},{"d":47.2,"v":3.1},{"d":47.5,"v":3.17},{"d":47.8,"v":3.05},{"d":48.2,"v":2.5},{"d":48.7,"v":2.01},{"d":49.0,"v":1.85},{"d":49.4,"v":1.71},{"d":49.9,"v":1.53},{"d":50.3,"v":1.62},{"d":51.0,"v":1.4},{"d":51.4,"v":1.21},{"d":51.9,"v":1.3},{"d":52.3,"v":1.14},{"d":52.8,"v":1.25},{"d":53.2,"v":1.02},{"d":53.7,"v":1.1},{"d":54.1,"v":0.99},{"d":54.6,"v":1.06},{"d":55.0,"v":0.95},{"d":55.5,"v":1.02},{"d":55.9,"v":0.91},{"d":56.4,"v":0.85},{"d":56.8,"v":0.78},{"d":57.3,"v":0.69},{"d":57.7,"v":0.58},{"d":58.2,"v":0.54},{"d":58.6,"v":0.44},{"d":59.1,"v":0.54},{"d":59.5,"v":0.46},{"d":60.0,"v":0.5},{"d":60.4,"v":0.39},{"d":60.9,"v":0.5},{"d":61.5,"v":0.42},{"d":62.1,"v":0.5},{"d":62.7,"v":0.44},{"d":63.3,"v":0.5},{"d":63.9,"v":0.45},{"d":64.5,"v":0.5},{"d":65.1,"v":0.44},{"d":65.7,"v":0.49},{"d":66.3,"v":0.44},{"d":66.9,"v":0.44},{"d":67.5,"v":0.37},{"d":68.1,"v":0.39},{"d":68.7,"v":0.32},{"d":69.3,"v":0.33},{"d":69.9,"v":0.27},{"d":70.5,"v":0.28},{"d":71.1,"v":0.23},{"d":71.7,"v":0.24},{"d":72.3,"v":0.19},{"d":72.9,"v":0.2},{"d":73.6,"v":0.15},{"d":74.2,"v":0.2},{"d":74.8,"v":0.15},{"d":75.4,"v":0.18},{"d":76.0,"v":0.27},{"d":76.6,"v":0.22},{"d":77.2,"v":0.24},{"d":77.8,"v":0.19},{"d":78.4,"v":0.2},{"d":79.0,"v":0.15},{"d":79.9,"v":0.16},{"d":80.8,"v":0.12},{"d":81.7,"v":0.14},{"d":82.6,"v":0.1},{"d":83.5,"v":0.12},{"d":84.4,"v":0.08},{"d":85.3,"v":0.1},{"d":86.2,"v":0.08},{"d":87.1,"v":0.1},{"d":88.0,"v":0.07},{"d":89,"v":0.1},{"d":90,"v":0.07},{"d":91,"v":0.1},{"d":92,"v":0.07},{"d":93,"v":0.09},{"d":94,"v":0.07},{"d":95,"v":0.09},{"d":96,"v":0.06},{"d":97,"v":0.09},{"d":98,"v":0.06},{"d":99,"v":0.08},{"d":100,"v":0.05},{"d":101,"v":0.07},{"d":102,"v":0.05},{"d":103,"v":0.07},{"d":104,"v":0.04},{"d":105,"v":0.06},{"d":106,"v":0.05},{"d":107,"v":0.09},{"d":108,"v":0.12},{"d":109,"v":0.18},{"d":110,"v":0.13},{"d":111,"v":0.2},{"d":112,"v":0.12},{"d":113,"v":0.14},{"d":114,"v":0.1},{"d":115,"v":0.13},{"d":116,"v":0.1},{"d":117,"v":0.2},{"d":117.5,"v":0.31},{"d":118.1,"v":0.37},{"d":118.7,"v":0.28},{"d":119.3,"v":0.3},{"d":119.9,"v":0.24},{"d":120.5,"v":0.2},{"d":121.1,"v":0.13},{"d":122,"v":0.11},{"d":123,"v":0.08},{"d":124,"v":0.1},{"d":125,"v":0.07},{"d":126,"v":0.09},{"d":127,"v":0.06},{"d":128,"v":0.08},{"d":129,"v":0.05},{"d":130,"v":0.07},{"d":131,"v":0.05},{"d":132,"v":0.08},{"d":132.5,"v":0.16},{"d":133.4,"v":0.28},{"d":133.7,"v":0.16},{"d":134.6,"v":0.28},{"d":135.3,"v":0.13},{"d":136.2,"v":0.13},{"d":137.4,"v":0.07},{"d":138.6,"v":0.05},{"d":140.4,"v":0.05},{"d":142.2,"v":0.05},{"d":144,"v":0.05},{"d":145.8,"v":0.03},{"d":147,"v":0.015},{"d":148.5,"v":0.03},{"d":150,"v":0.05},{"d":151.2,"v":0.05},{"d":152.4,"v":0.07},{"d":153,"v":0.09}],
"a17":[{"d":40,"v":5.6},{"d":43.3,"v":5.2},{"d":44.3,"v":4.8},{"d":44.8,"v":5.1},{"d":45.3,"v":5.0},{"d":46.0,"v":4.5},{"d":46.4,"v":4.8},{"d":46.9,"v":4.9},{"d":47.1,"v":3.9},{"d":47.4,"v":4.3},{"d":47.8,"v":5.0},{"d":48.1,"v":4.1},{"d":48.8,"v":4.7},{"d":49.3,"v":4.0},{"d":49.8,"v":4.4},{"d":50.3,"v":3.8},{"d":50.9,"v":4.2},{"d":51.5,"v":4.3},{"d":51.9,"v":3.7},{"d":52.2,"v":4.0},{"d":52.6,"v":3.3},{"d":53.0,"v":3.9},{"d":53.6,"v":3.7},{"d":54.2,"v":3.4},{"d":54.8,"v":3.8},{"d":55.2,"v":3.36},{"d":55.8,"v":3.8},{"d":56.4,"v":3.2},{"d":56.8,"v":3.7},{"d":57.4,"v":3.26},{"d":58.0,"v":3.79},{"d":58.4,"v":3.0},{"d":58.8,"v":3.68},{"d":59.2,"v":3.0},{"d":59.5,"v":3.28},{"d":60.1,"v":3.0},{"d":60.6,"v":3.2},{"d":61.3,"v":2.91},{"d":61.8,"v":3.2},{"d":62.3,"v":2.9},{"d":62.9,"v":3.3},{"d":63.2,"v":2.76},{"d":63.8,"v":3.2},{"d":64.1,"v":2.67},{"d":64.7,"v":2.9},{"d":65.1,"v":2.59},{"d":65.6,"v":3.2},{"d":65.9,"v":2.68},{"d":66.3,"v":2.4},{"d":66.6,"v":2.59},{"d":67.1,"v":2.01},{"d":67.4,"v":2.4},{"d":67.8,"v":2.22},{"d":68.3,"v":2.01},{"d":68.7,"v":2.29},{"d":69.3,"v":2.01},{"d":69.8,"v":2.29},{"d":70.4,"v":2.01},{"d":71.0,"v":2.2},{"d":71.6,"v":2.29},{"d":72.0,"v":1.92},{"d":72.5,"v":2.1},{"d":73.1,"v":1.92},{"d":73.5,"v":2.1},{"d":74.2,"v":1.92},{"d":74.8,"v":2.03},{"d":75.1,"v":1.81},{"d":75.4,"v":1.6},{"d":75.7,"v":1.75},{"d":76.0,"v":1.4},{"d":76.2,"v":1.7},{"d":76.6,"v":1.6},{"d":77.2,"v":1.4},{"d":77.8,"v":1.6},{"d":78.5,"v":1.7},{"d":79.0,"v":1.4},{"d":79.4,"v":1.6},{"d":80.2,"v":1.3},{"d":80.5,"v":1.6},{"d":80.9,"v":1.4},{"d":81.7,"v":1.49},{"d":82.3,"v":1.4},{"d":83.0,"v":1.1},{"d":83.5,"v":1.4},{"d":84.1,"v":1.3},{"d":85.0,"v":1.1},{"d":85.4,"v":1.3},{"d":86.2,"v":1.21},{"d":86.5,"v":1.3},{"d":87.1,"v":1.0},{"d":87.4,"v":1.21},{"d":88.0,"v":1.1},{"d":88.9,"v":0.95},{"d":89.5,"v":1.1},{"d":90.1,"v":0.95},{"d":90.7,"v":1.1},{"d":91.3,"v":0.99},{"d":91.9,"v":0.82},{"d":92.4,"v":0.99},{"d":92.9,"v":0.86},{"d":93.4,"v":0.92},{"d":94.0,"v":0.78},{"d":94.6,"v":0.95},{"d":95.1,"v":0.88},{"d":95.5,"v":0.99},{"d":96.1,"v":0.88},{"d":96.7,"v":0.97},{"d":97.2,"v":0.89},{"d":97.6,"v":0.95},{"d":98.2,"v":0.86},{"d":98.8,"v":0.9},{"d":99.3,"v":0.82},{"d":99.7,"v":0.86},{"d":100.2,"v":0.78},{"d":100.6,"v":0.82},{"d":101.1,"v":0.72},{"d":101.5,"v":0.76},{"d":102.0,"v":0.68},{"d":102.4,"v":0.73},{"d":102.9,"v":0.67},{"d":103.3,"v":0.74},{"d":103.8,"v":0.7},{"d":104.3,"v":0.78},{"d":104.8,"v":0.7},{"d":105.2,"v":0.75},{"d":105.7,"v":0.67},{"d":106.1,"v":0.72},{"d":106.6,"v":0.66},{"d":107.0,"v":0.73},{"d":107.5,"v":0.65},{"d":107.9,"v":0.68},{"d":108.4,"v":0.6},{"d":108.8,"v":0.62},{"d":109.3,"v":0.57},{"d":109.7,"v":0.65},{"d":110.2,"v":0.63},{"d":110.6,"v":0.71},{"d":111.1,"v":0.7},{"d":111.5,"v":0.8},{"d":112.0,"v":0.72},{"d":112.4,"v":0.74},{"d":112.9,"v":0.63},{"d":113.3,"v":0.66},{"d":113.9,"v":0.6},{"d":114.5,"v":0.67},{"d":115.1,"v":0.58},{"d":115.7,"v":0.58},{"d":116.3,"v":0.5},{"d":116.9,"v":0.53},{"d":117.5,"v":0.45},{"d":118.1,"v":0.43},{"d":118.7,"v":0.37},{"d":119.2,"v":0.45},{"d":119.6,"v":0.43},{"d":120.1,"v":0.5},{"d":120.5,"v":0.54},{"d":121.0,"v":0.47},{"d":121.4,"v":0.46},{"d":121.9,"v":0.38},{"d":122.3,"v":0.39},{"d":122.9,"v":0.31},{"d":123.2,"v":0.35},{"d":123.7,"v":0.28},{"d":124.1,"v":0.18},{"d":124.6,"v":0.26},{"d":125.0,"v":0.24},{"d":125.5,"v":0.33},{"d":125.9,"v":0.35},{"d":126.4,"v":0.42},{"d":126.8,"v":0.41},{"d":127.3,"v":0.5},{"d":127.7,"v":0.54},{"d":128.0,"v":0.68},{"d":128.3,"v":0.78},{"d":128.9,"v":0.8},{"d":129.5,"v":0.72},{"d":130.1,"v":0.6},{"d":130.6,"v":0.55},{"d":131.0,"v":0.5},{"d":131.5,"v":0.44},{"d":131.9,"v":0.39},{"d":132.4,"v":0.44},{"d":132.8,"v":0.4},{"d":133.3,"v":0.46},{"d":133.7,"v":0.44},{"d":134.0,"v":0.55},{"d":134.3,"v":0.63},{"d":134.6,"v":0.76},{"d":135.0,"v":0.7},{"d":135.3,"v":0.68},{"d":135.9,"v":0.56},{"d":136.4,"v":0.62},{"d":136.8,"v":0.56},{"d":137.3,"v":0.6},{"d":137.7,"v":0.5},{"d":138.2,"v":0.58},{"d":138.6,"v":0.55},{"d":139.1,"v":0.6},{"d":139.5,"v":0.5},{"d":140.0,"v":0.55},{"d":140.4,"v":0.45},{"d":140.9,"v":0.53},{"d":141.3,"v":0.47},{"d":141.8,"v":0.55},{"d":142.2,"v":0.46},{"d":142.7,"v":0.55},{"d":143.1,"v":0.5},{"d":143.6,"v":0.56},{"d":144.0,"v":0.47},{"d":144.6,"v":0.56},{"d":145.2,"v":0.5},{"d":145.7,"v":0.55},{"d":146.1,"v":0.46},{"d":146.6,"v":0.5},{"d":146.7,"v":0.87},{"d":146.8,"v":0.27},{"d":147.2,"v":0.5},{"d":147.6,"v":0.56},{"d":148.1,"v":0.48},{"d":148.5,"v":0.56},{"d":149.0,"v":0.46},{"d":149.4,"v":0.52},{"d":149.9,"v":0.44},{"d":150.3,"v":0.56},{"d":150.8,"v":0.45},{"d":151.2,"v":0.4},{"d":151.6,"v":0.52},{"d":152.1,"v":0.46},{"d":152.6,"v":0.52},{"d":152.8,"v":5.5},{"d":153,"v":1.32}],
"a18":[{"d":0,"v":5.6},{"d":3.0,"v":5.3},{"d":3.7,"v":4.95},{"d":4.0,"v":5.1},{"d":4.7,"v":4.57},{"d":5.2,"v":4.95},{"d":5.75,"v":4.23},{"d":6.2,"v":4.5},{"d":6.7,"v":3.76},{"d":7.2,"v":4.17},{"d":7.7,"v":3.45},{"d":8.2,"v":3.85},{"d":8.8,"v":3.25},{"d":9.2,"v":3.6},{"d":9.7,"v":3.03},{"d":10.2,"v":3.42},{"d":10.6,"v":2.9},{"d":11.1,"v":3.08},{"d":11.7,"v":2.44},{"d":12.3,"v":3.1},{"d":12.8,"v":2.95},{"d":13.2,"v":3.2},{"d":13.7,"v":2.8},{"d":14.2,"v":3.05},{"d":14.7,"v":2.7},{"d":15.3,"v":2.87},{"d":16.0,"v":2.6},{"d":16.6,"v":2.7},{"d":17.2,"v":2.45},{"d":17.7,"v":2.37},{"d":18.2,"v":2.44},{"d":18.7,"v":2.2},{"d":19.1,"v":2.3},{"d":19.5,"v":2.05},{"d":20.0,"v":2.1},{"d":20.5,"v":1.88},{"d":21.0,"v":1.95},{"d":21.6,"v":1.71},{"d":22.0,"v":1.9},{"d":22.3,"v":1.96},{"d":22.6,"v":1.81},{"d":23.2,"v":1.98},{"d":23.5,"v":1.75},{"d":24.0,"v":1.98},{"d":24.4,"v":1.79},{"d":25.1,"v":1.96},{"d":25.7,"v":1.66},{"d":26.1,"v":1.81},{"d":26.6,"v":1.45},{"d":27.0,"v":1.64},{"d":27.6,"v":1.27},{"d":28.1,"v":1.49},{"d":28.7,"v":1.15},{"d":29.3,"v":1.27},{"d":29.7,"v":1.12},{"d":30.2,"v":1.25},{"d":30.8,"v":1.12},{"d":31.1,"v":1.25},{"d":31.8,"v":1.21},{"d":32.4,"v":0.95},{"d":33.0,"v":1.0},{"d":33.5,"v":0.91},{"d":33.9,"v":1.06},{"d":34.4,"v":0.89},{"d":34.8,"v":1.02},{"d":35.3,"v":0.87},{"d":35.7,"v":1.0},{"d":36.2,"v":0.87},{"d":36.6,"v":1.0},{"d":36.9,"v":0.87},{"d":37.5,"v":0.95},{"d":38.0,"v":0.84},{"d":38.6,"v":0.76},{"d":39.0,"v":1.06},{"d":39.5,"v":0.95},{"d":39.9,"v":1.19},{"d":40.4,"v":1.08},{"d":40.9,"v":1.19},{"d":41.3,"v":0.99},{"d":41.8,"v":1.17},{"d":42.2,"v":1.06},{"d":42.7,"v":0.84},{"d":43.1,"v":1.08},{"d":43.6,"v":0.85},{"d":44.0,"v":1.12},{"d":44.5,"v":0.91},{"d":44.9,"v":1.14},{"d":45.4,"v":0.93},{"d":45.8,"v":1.16},{"d":46.4,"v":0.99},{"d":46.9,"v":1.19},{"d":47.3,"v":0.99},{"d":47.8,"v":1.19},{"d":48.2,"v":1.0},{"d":48.7,"v":1.16},{"d":49.1,"v":0.93},{"d":49.8,"v":1.12},{"d":50.2,"v":0.87},{"d":50.7,"v":1.04},{"d":51.0,"v":0.82},{"d":51.6,"v":0.78},{"d":52.2,"v":0.69},{"d":52.8,"v":0.72},{"d":53.4,"v":0.59},{"d":54.0,"v":0.71},{"d":54.6,"v":0.65},{"d":55.2,"v":0.74},{"d":55.8,"v":0.69},{"d":56.4,"v":0.65},{"d":57.0,"v":0.74},{"d":57.6,"v":0.65},{"d":58.2,"v":0.71},{"d":58.8,"v":0.65},{"d":59.4,"v":0.67},{"d":60.0,"v":0.58},{"d":60.6,"v":0.65},{"d":61.2,"v":0.6},{"d":61.8,"v":0.68},{"d":62.4,"v":0.62},{"d":63.0,"v":0.68},{"d":63.5,"v":0.63},{"d":64.1,"v":0.72},{"d":64.6,"v":0.66},{"d":65.1,"v":0.67},{"d":65.6,"v":0.6},{"d":66.0,"v":0.63},{"d":66.5,"v":0.55},{"d":66.9,"v":0.56},{"d":67.4,"v":0.5},{"d":67.8,"v":0.52},{"d":68.3,"v":0.45},{"d":68.7,"v":0.46},{"d":69.2,"v":0.41},{"d":69.6,"v":0.43},{"d":70.1,"v":0.39},{"d":70.5,"v":0.41},{"d":71.0,"v":0.41},{"d":71.4,"v":0.43},{"d":71.9,"v":0.4},{"d":72.3,"v":0.44},{"d":72.8,"v":0.42},{"d":73.2,"v":0.46},{"d":73.7,"v":0.43},{"d":74.2,"v":0.46},{"d":74.7,"v":0.42},{"d":75.1,"v":0.44},{"d":75.6,"v":0.41},{"d":76.0,"v":0.44},{"d":76.5,"v":0.41},{"d":76.9,"v":0.44},{"d":77.4,"v":0.4},{"d":77.8,"v":0.41},{"d":78.3,"v":0.36},{"d":78.7,"v":0.37},{"d":79.2,"v":0.33},{"d":79.6,"v":0.35},{"d":80.1,"v":0.3},{"d":80.5,"v":0.31},{"d":81.0,"v":0.31},{"d":81.4,"v":0.33},{"d":81.9,"v":0.29},{"d":82.3,"v":0.31},{"d":82.8,"v":0.28},{"d":83.2,"v":0.31},{"d":83.7,"v":0.26},{"d":84.1,"v":0.28},{"d":84.6,"v":0.24},{"d":85.0,"v":0.26},{"d":85.5,"v":0.24},{"d":85.9,"v":0.28},{"d":86.4,"v":0.24},{"d":86.8,"v":0.26},{"d":87.3,"v":0.25},{"d":87.7,"v":0.28},{"d":88.2,"v":0.22},{"d":88.6,"v":0.24},{"d":89.1,"v":0.19},{"d":89.5,"v":0.2},{"d":90.0,"v":0.16},{"d":90.4,"v":0.18},{"d":90.9,"v":0.15},{"d":91.3,"v":0.16},{"d":91.8,"v":0.17},{"d":92.2,"v":0.18},{"d":92.8,"v":0.21},{"d":93.4,"v":0.16},{"d":94.0,"v":0.18},{"d":94.6,"v":0.14},{"d":95.2,"v":0.16},{"d":95.8,"v":0.12},{"d":96.4,"v":0.14},{"d":97.0,"v":0.1},{"d":97.6,"v":0.13},{"d":98.2,"v":0.1},{"d":98.8,"v":0.12},{"d":99.4,"v":0.08},{"d":100.0,"v":0.11},{"d":100.6,"v":0.08},{"d":101.2,"v":0.1},{"d":101.8,"v":0.07},{"d":102.4,"v":0.09},{"d":103.0,"v":0.06},{"d":103.6,"v":0.1},{"d":104.3,"v":0.08},{"d":104.9,"v":0.12},{"d":105.5,"v":0.1},{"d":106.1,"v":0.14},{"d":106.7,"v":0.11},{"d":107.3,"v":0.12},{"d":107.9,"v":0.09},{"d":108.5,"v":0.14},{"d":109.1,"v":0.11},{"d":109.7,"v":0.15},{"d":110.3,"v":0.13},{"d":110.9,"v":0.16},{"d":111.5,"v":0.13},{"d":112.1,"v":0.17},{"d":112.7,"v":0.14},{"d":113.3,"v":0.19},{"d":113.9,"v":0.18},{"d":114.5,"v":0.22},{"d":115.1,"v":0.2},{"d":115.7,"v":0.23},{"d":116.3,"v":0.2},{"d":116.9,"v":0.24},{"d":117.5,"v":0.22},{"d":118.1,"v":0.26},{"d":118.7,"v":0.24},{"d":119.3,"v":0.23},{"d":119.9,"v":0.19},{"d":120.5,"v":0.19},{"d":121.1,"v":0.15},{"d":121.7,"v":0.17},{"d":122.3,"v":0.14},{"d":122.9,"v":0.16},{"d":123.5,"v":0.12},{"d":124.1,"v":0.15},{"d":124.7,"v":0.13},{"d":125.3,"v":0.17},{"d":125.9,"v":0.14},{"d":126.5,"v":0.17},{"d":127.1,"v":0.13},{"d":127.7,"v":0.17},{"d":128.3,"v":0.14},{"d":128.9,"v":0.15},{"d":129.5,"v":0.11},{"d":130.1,"v":0.1},{"d":130.7,"v":0.06},{"d":131.3,"v":0.05},{"d":131.9,"v":0.01},{"d":132.2,"v":0.07},{"d":132.8,"v":0.01},{"d":133.4,"v":0.0},{"d":133.9,"v":0.04},{"d":134.3,"v":0.06},{"d":134.9,"v":0.04},{"d":135.5,"v":0.06},{"d":136.0,"v":0.05},{"d":136.5,"v":0.09},{"d":137.0,"v":0.06},{"d":137.4,"v":0.05},{"d":138.0,"v":0.03},{"d":138.6,"v":0.01},{"d":139.2,"v":0.09},{"d":139.8,"v":0.07},{"d":140.4,"v":0.1},{"d":141.0,"v":0.08},{"d":141.6,"v":0.12},{"d":142.2,"v":0.09},{"d":142.8,"v":0.12},{"d":143.4,"v":0.1},{"d":144.0,"v":0.13},{"d":144.6,"v":0.1},{"d":145.2,"v":0.11},{"d":145.8,"v":0.08},{"d":146.4,"v":0.07},{"d":147.0,"v":0.04},{"d":147.6,"v":0.01},{"d":148.0,"v":0.05},{"d":148.5,"v":0.07},{"d":149.0,"v":0.06},{"d":149.4,"v":0.09},{"d":149.8,"v":0.18},{"d":150.2,"v":0.3},{"d":150.6,"v":0.46},{"d":150.9,"v":0.58},{"d":151.2,"v":0.69},{"d":151.5,"v":0.85},{"d":151.7,"v":0.91},{"d":152.0,"v":0.93},{"d":152.2,"v":5.5},{"d":153,"v":5.5}],
"cut":[{"d":74.3,"v":4.92,"d2":75.6,"v2":0}]
},
"layer":[
{"data":{"name":"a11"},"mark":{"type":"line","clip":true,"strokeWidth":2},"encoding":{"color":{"datum":"WY 2011","type":"nominal","scale":{"domain":["WY 2011","WY 2012","WY 2013","WY 2014","WY 2015","WY 2016","WY 2017","WY 2018"],"range":["#2E75B6","#843C0C","#C55A11","#ED7D31","#F4B183","#C5E0B4","#70AD47","#548235"]},
 "legend":{"orient":"none","legendX":1286,"legendY":23,"title":null,"direction":"vertical","symbolType":"stroke","symbolSize":2116,"symbolStrokeWidth":2,"symbolOffset":36,"labelOffset":14,"padding":14,"rowPadding":24.6,"labelFontSize":27,"labelColor":"#1a1a1a","labelLimit":400,"labelExpr":"datum.label + '\u2009\u2009\u2800'","strokeColor":"#D9D9D9","fillColor":"#FFFFFF","encode":{"symbols":{"update":{"strokeWidth":{"signal":"datum.value == 'WY 2018' ? 4.5 : 2"}}},"legend":{"update":{"strokeWidth":{"value":2}}}}}}}},
{"data":{"name":"a12"},"mark":{"type":"line","clip":true,"strokeWidth":2},"encoding":{"color":{"datum":"WY 2012","type":"nominal"}}},
{"data":{"name":"a13"},"mark":{"type":"line","clip":true,"strokeWidth":2},"encoding":{"color":{"datum":"WY 2013","type":"nominal"}}},
{"data":{"name":"a14"},"mark":{"type":"line","clip":true,"strokeWidth":2},"encoding":{"color":{"datum":"WY 2014","type":"nominal"}}},
{"data":{"name":"a15"},"mark":{"type":"line","clip":true,"strokeWidth":2},"encoding":{"color":{"datum":"WY 2015","type":"nominal"}}},
{"data":{"name":"a16"},"mark":{"type":"line","clip":true,"strokeWidth":2},"encoding":{"color":{"datum":"WY 2016","type":"nominal"}}},
{"data":{"name":"a17"},"mark":{"type":"line","clip":true,"strokeWidth":2},"encoding":{"color":{"datum":"WY 2017","type":"nominal"}}},
{"data":{"name":"a18"},"mark":{"type":"line","clip":true,"strokeWidth":4.5},"encoding":{"color":{"datum":"WY 2018","type":"nominal"}}},
{"data":{"name":"cut"},"mark":{"type":"rule","color":"black","strokeWidth":5,"strokeDash":[23,19.8],"strokeCap":"butt"},"encoding":{"x2":{"field":"d2"},"y2":{"field":"v2"}}}
]
}
